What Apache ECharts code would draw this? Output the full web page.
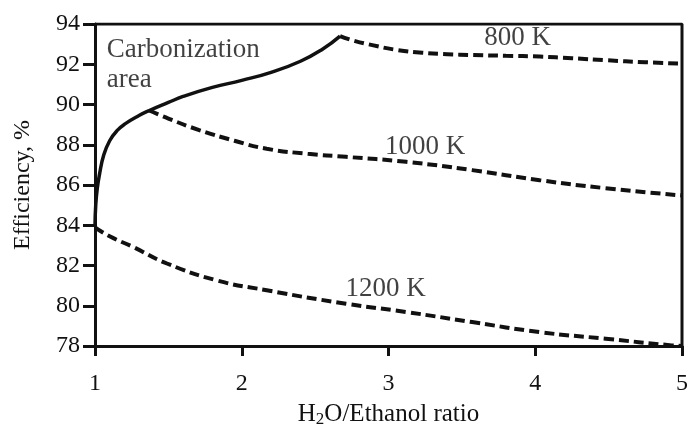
<!DOCTYPE html>
<html>
<head>
<meta charset="utf-8">
<script src="https://cdn.jsdelivr.net/npm/echarts@6/dist/echarts.min.js"></script>
<style>
  html, body { margin: 0; padding: 0; background: #fff; }
  #chart { width: 689px; height: 427px; }
</style>
</head>
<body>
<div id="chart"></div>
<script>
// carbonization boundary (solid)
const boundaryX = [1.0, 1.005, 1.015, 1.03, 1.06, 1.1, 1.15, 1.21, 1.3, 1.37, 1.5, 1.6, 1.8, 2.0, 2.2, 2.4, 2.55, 2.67];
const boundaryY = [84.0, 85.0, 85.8, 86.5, 87.5, 88.2, 88.7, 89.06, 89.45, 89.7, 90.1, 90.4, 90.85, 91.2, 91.6, 92.15, 92.75, 93.4];

// 800 K
const k800X = [2.67, 2.75, 2.89, 3.05, 3.23, 3.4, 3.57, 3.8, 4.03, 4.25, 4.48, 4.75, 5.0];
const k800Y = [93.4, 93.2, 92.95, 92.72, 92.57, 92.5, 92.46, 92.42, 92.38, 92.3, 92.2, 92.1, 92.03];

// 1000 K
const k1000X = [1.37, 1.5, 1.71, 1.95, 2.17, 2.45, 2.71, 3.12, 3.57, 4.03, 4.48, 5.0];
const k1000Y = [89.7, 89.3, 88.73, 88.2, 87.8, 87.55, 87.4, 87.15, 86.74, 86.24, 85.84, 85.48];

// 1200 K
const k1200X = [1.0, 1.1, 1.26, 1.49, 1.83, 2.17, 2.71, 3.12, 3.57, 4.03, 4.48, 4.93, 5.0];
const k1200Y = [83.9, 83.45, 82.92, 82.1, 81.26, 80.77, 80.1, 79.69, 79.19, 78.69, 78.36, 78.03, 78.0];

// text labels on the plot
const noteText = ["800 K", "1000 K", "1200 K", "Carbonization", "area"];
const noteX = [3.88, 3.25, 2.98, 1.08, 1.08];
const noteY = [93.3, 87.9, 80.85, 92.72, 91.22];

const pairs = (xs, ys) => xs.map((x, i) => [x, ys[i]]);

const FONT = "Liberation Serif";
const INK = "#111";
const dashed = { color: INK, width: 4, type: [10, 5] };

var chart = echarts.init(document.getElementById("chart"));

option = {
  animation: false,
  backgroundColor: "#fff",
  textStyle: { fontFamily: FONT },
  grid: { left: 95, right: 7, top: 24, bottom: 81, outerBoundsMode: "none" },
  xAxis: {
    type: "value",
    min: 1, max: 5, interval: 1,
    name: "{a|H}{s|2}{a|O/Ethanol ratio}",
    nameLocation: "middle",
    nameGap: 52,
    nameTextStyle: {
      fontFamily: FONT,
      rich: {
        a: { fontFamily: FONT, fontSize: 25, color: INK, lineHeight: 30 },
        s: { fontFamily: FONT, fontSize: 17, color: INK, lineHeight: 30, padding: [10, 0, 0, 0] }
      }
    },
    axisLine: { lineStyle: { color: INK, width: 3 } },
    axisTick: { inside: false, length: 10, lineStyle: { color: INK, width: 3 } },
    axisLabel: { fontFamily: FONT, fontSize: 24, color: INK, margin: 26 },
    splitLine: { show: false }
  },
  yAxis: {
    type: "value",
    min: 78, max: 94, interval: 2,
    name: "Efficiency, %",
    nameLocation: "middle",
    nameGap: 60,
    nameTextStyle: { fontFamily: FONT, fontSize: 24, color: INK },
    axisLine: { lineStyle: { color: INK, width: 3 } },
    axisTick: { inside: false, length: 12, lineStyle: { color: INK, width: 3 } },
    axisLabel: { fontFamily: FONT, fontSize: 24, color: INK, margin: 15 },
    splitLine: { show: false }
  },
  series: [
    {
      // frame top/right
      type: "line",
      data: [[1, 94], [5, 94], [5, 78]],
      symbol: "none",
      lineStyle: { color: INK, width: 3 },
      silent: true
    },
    {
      type: "line", smooth: true, symbol: "none",
      data: pairs(boundaryX, boundaryY),
      lineStyle: { color: INK, width: 3.5 }
    },
    {
      type: "line", smooth: true, symbol: "none",
      data: pairs(k800X, k800Y),
      lineStyle: dashed
    },
    {
      type: "line", smooth: true, symbol: "none",
      data: pairs(k1000X, k1000Y),
      lineStyle: dashed
    },
    {
      type: "line", smooth: true, symbol: "none",
      data: pairs(k1200X, k1200Y),
      lineStyle: dashed
    },
    {
      type: "scatter",
      symbolSize: 0,
      data: noteText.map((t, i) => ({
        name: t,
        value: [noteX[i], noteY[i]],
        label: { align: i >= 3 ? "left" : "center" }
      })),
      label: {
        show: true,
        position: "inside",
        formatter: p => p.name,
        fontFamily: FONT,
        fontSize: 27,
        color: INK
      }
    }
  ]
};

chart.setOption(option);
</script>
</body>
</html>
